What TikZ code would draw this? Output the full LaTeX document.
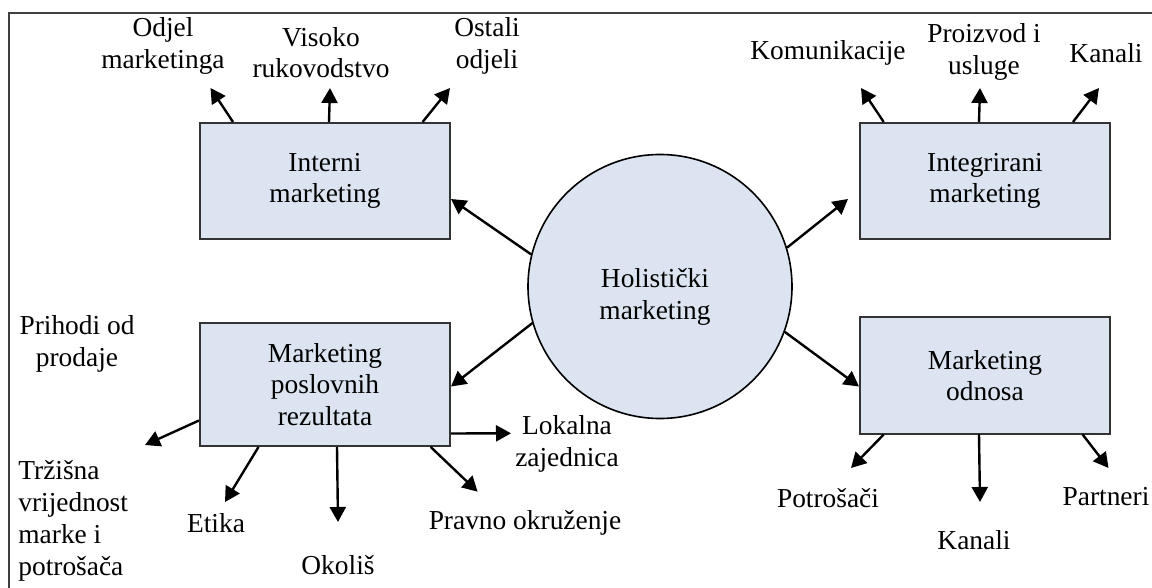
\documentclass[tikz,border=0pt]{standalone}
\usepackage{fontspec}
\setmainfont{Liberation Serif}
\usetikzlibrary{arrows.meta,calc}
\definecolor{boxblue}{RGB}{219,228,240}
\tikzset{
  box/.style={draw=black!80, fill=boxblue, line width=1pt, minimum width=125pt,
    minimum height=58pt, inner sep=0pt, align=center},
  lbl/.style={inner sep=0pt, align=center},
  arr/.style={line width=1.2pt, -{Triangle[length=7.5pt,width=8pt]}}
}
\begin{document}
\begin{tikzpicture}[x=0.5pt, y=-0.5pt, font=\fontsize{13.7}{15.6}\selectfont]
    \useasboundingbox (0,0) rectangle (1152,588);
    \clip (0,0) rectangle (1152,588);
    \draw[line width=1pt, black!75] (9,13) rectangle (1160,600);

    % Centre and the four parts
    \node[circle, draw=black, fill=boxblue, line width=0.8pt, minimum size=132pt] (hol) at (660,286.5) {};
    \node[lbl] (holt) at (655,297) {Holistički\\marketing};
    \node[box] (int) at (325,181) {Interni\\marketing};
    \node[box] (integ) at (985,181) {Integrirani\\marketing};
    \node[box, minimum height=61.5pt] (mpr) at (325,384.5) {Marketing\\poslovnih\\rezultata};
    \node[box] (odn) at (985,375.5) {Marketing\\odnosa};

    % Labels
    \node[lbl] (odj) at (163,46) {Odjel\\marketinga};
    \node[lbl] (vis) at (321,53) {Visoko\\rukovodstvo};
    \node[lbl] (ost) at (487,46) {Ostali\\odjeli};
    \node[lbl] (kom) at (828,53) {Komunikacije};
    \node[lbl] (pro) at (984,52) {Proizvod i\\usluge};
    \node[lbl] (kan) at (1106,53) {Kanali};
    \node[lbl] (pri) at (77,344) {Prihodi od\\prodaje};
    \node[lbl, anchor=west, align=left, font=\fontsize{13.7}{16}\selectfont] (trz) at (18,521) {Tržišna\\vrijednost\\marke i\\potrošača};
    \node[lbl] (eti) at (216,523) {Etika};
    \node[lbl] (oko) at (338,565) {Okoliš};
    \node[lbl] (pra) at (525,523) {Pravno okruženje};
    \node[lbl] (lok) at (567,444) {Lokalna\\zajednica};
    \node[lbl] (pot) at (828,498) {Potrošači};
    \node[lbl] (kan2) at (974,540) {Kanali};
    \node[lbl] (par) at (1106,497) {Partneri};

    % Arrow ends
    \coordinate (t1) at (210.5,88); \coordinate (t2) at (330,88); \coordinate (t3) at (450,88);
    \coordinate (t4) at (861,88); \coordinate (t5) at (980,88); \coordinate (t6) at (1099,88);
    \coordinate (t7) at (145,445); \coordinate (t8) at (225,502); \coordinate (t9) at (338,522);
    \coordinate (t10) at (477.6,491.7); \coordinate (t11) at (511,433.3);
    \coordinate (t12) at (851,468); \coordinate (t13) at (980,502); \coordinate (t14) at (1108.5,468);

    % From the centre
    \draw[arr] (hol.166) -- ($(int.east)+(0,18)$);
    \draw[arr] (hol.17) -- ($(integ.west)+(-11,18)$);
    \draw[arr] (hol.196) -- ($(mpr.east)+(0,2)$);
    \draw[arr] (hol.340) -- ($(odn.west)+(0,11)$);

    % Interni marketing
    \draw[arr] ($(int.north west)+(34,0)$) -- (t1);
    \draw[arr] ($(int.north west)+(130,0)$) -- (t2);
    \draw[arr] ($(int.north west)+(223.6,0)$) -- (t3);

    % Integrirani marketing
    \draw[arr] ($(integ.north west)+(24.7,0)$) -- (t4);
    \draw[arr] ($(integ.north west)+(120,0)$) -- (t5);
    \draw[arr] ($(integ.north west)+(214,0)$) -- (t6);

    % Marketing poslovnih rezultata
    \draw[arr] ($(mpr.west)+(0,36)$) -- (t7);
    \draw[arr] ($(mpr.south west)+(59.5,0)$) -- (t8);
    \draw[arr] ($(mpr.south west)+(138,0)$) -- (t9);
    \draw[arr] ($(mpr.south west)+(231.7,0)$) -- (t10);
    \draw[arr] ($(mpr.east)+(0,49)$) -- (t11);

    % Marketing odnosa
    \draw[arr] ($(odn.south west)+(24.7,0)$) -- (t12);
    \draw[arr] ($(odn.south west)+(120,0)$) -- (t13);
    \draw[arr] ($(odn.south west)+(223.6,0)$) -- (t14);
\end{tikzpicture}
\end{document}
